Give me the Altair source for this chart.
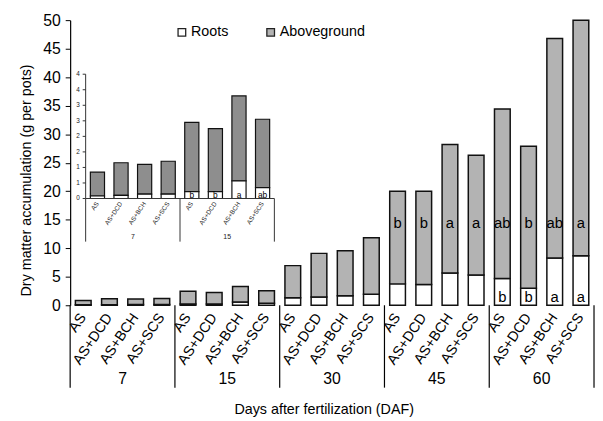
import altair as alt
import pandas as pd

days = ["7", "15", "30", "45", "60"]
treatments = ["AS", "AS+DCD", "AS+BCH", "AS+SCS"]
roots = [0.08, 0.10, 0.14, 0.14,
         0.22, 0.22, 0.57, 0.35,
         1.3, 1.45, 1.65, 1.95,
         3.75, 3.65, 5.65, 5.3,
         4.7, 3.0, 8.3, 8.7]
totals = [0.85, 1.15, 1.1, 1.2,
          2.45, 2.25, 3.3, 2.55,
          6.95, 9.1, 9.55, 11.85,
          20.0, 20.0, 28.2, 26.3,
          34.4, 27.9, 46.8, 50.0]
above_letters = ["", "", "", "", "", "", "", "", "", "", "", "",
                 "b", "b", "a", "a", "ab", "b", "ab", "a"]
root_letters = ["", "", "", "", "b", "b", "a", "ab", "", "", "", "",
                "", "", "", "", "b", "b", "a", "a"]
inset_days = ["7", "15"]
inset_ticks = [0, 0.5, 1, 1.5, 2, 2.5, 3, 3.5, 4]
x_title = "Days after fertilization (DAF)"
y_title = "Dry matter accumulation (g per pots)"

FONT = "Liberation Sans"

keys = [f"{d}|{t}" for d in days for t in treatments]
rows = []
for i, k in enumerate(keys):
    d, t = k.split("|")
    rows.append(dict(key=k, day=d, part="Roots", lo=0.0, hi=roots[i]))
    rows.append(dict(key=k, day=d, part="Aboveground", lo=roots[i], hi=totals[i]))
long_df = pd.DataFrame(rows)
letters_df = pd.DataFrame(dict(key=keys, day=[k.split("|")[0] for k in keys],
                               treat=[k.split("|")[1] for k in keys],
                               above=above_letters, root=root_letters))
bound_df = pd.DataFrame(dict(key=[f"{d}|{treatments[0]}" for d in days]))
right_df = pd.DataFrame(dict(key=[f"{days[-1]}|{treatments[-1]}"]))
glabel_df = pd.DataFrame(dict(key=[f"{d}|{treatments[2]}" for d in days], label=days))
xtitle_df = pd.DataFrame(dict(key=[f"{days[2]}|{treatments[2]}"], label=[x_title]))

inset_keys = [f"{d}|{t}" for d in inset_days for t in treatments]
inset_long = long_df[long_df["day"].isin(inset_days)]
inset_letters = letters_df[letters_df["day"].isin(inset_days)]
inset_bound = pd.DataFrame(dict(key=[f"{d}|{treatments[0]}" for d in inset_days]))
inset_right = pd.DataFrame(dict(key=[f"{inset_days[-1]}|{treatments[-1]}"]))
inset_glabel = pd.DataFrame(dict(key=[f"{d}|{treatments[2]}" for d in inset_days], label=inset_days))
inset_tick_df = pd.DataFrame(dict(v=inset_ticks))

W, H = 531, 289

# ---------- main chart ----------
mx_scale = alt.Scale(domain=keys, paddingInner=0, paddingOuter=0)
my_scale = alt.Scale(domain=[0, 50], nice=False)
mx_axis = alt.Axis(labels=False, ticks=False, domainColor="black", domainWidth=1.2,
                   title=None, grid=False)
my_axis = alt.Axis(values=list(range(0, 51, 5)), tickSize=5, labelFontSize=16,
                   labelFont=FONT, labelColor="black", labelPadding=5,
                   domainColor="black", tickColor="black", domainWidth=1.2,
                   title=y_title, titleFontSize=14.5,
                   titleFont=FONT, titleFontWeight="normal", titleColor="black",
                   titlePadding=9, titleY=162, grid=False)

main_bars = alt.Chart(long_df).mark_bar(
    width=alt.RelativeBandSize(0.6), stroke="#111111", strokeWidth=1.5
).encode(
    x=alt.X("key:N", scale=mx_scale, axis=mx_axis),
    y=alt.Y("lo:Q", scale=my_scale, axis=my_axis),
    y2="hi:Q",
    color=alt.Color("part:N",
                    scale=alt.Scale(domain=["Roots", "Aboveground"],
                                    range=["#ffffff", "#b3b3b3"]),
                    legend=alt.Legend(orient="none", legendX=106, legendY=5,
                                      direction="horizontal", title=None,
                                      symbolType="square", symbolSize=60,
                                      symbolStrokeColor="#222222", symbolStrokeWidth=1.3,
                                      labelFontSize=14.5, labelFont=FONT, labelColor="black",
                                      labelOffset=2, columnPadding=35, padding=0)),
)

main_xlabels = alt.Chart(letters_df).mark_text(
    fontSize=14.5, font=FONT, color="black", angle=304, align="right", baseline="middle"
).encode(x=alt.X("key:N", scale=mx_scale, axis=None), y=alt.value(H + 10), text="treat:N")

main_above_txt = alt.Chart(letters_df).mark_text(
    fontSize=15, font=FONT, color="black", baseline="middle"
).encode(x=alt.X("key:N", scale=mx_scale, axis=None), y=alt.value(205.5), text="above:N")

main_root_txt = alt.Chart(letters_df[letters_df["day"] == days[-1]]).mark_text(
    fontSize=15, font=FONT, color="black", baseline="middle"
).encode(x=alt.X("key:N", scale=mx_scale, axis=None), y=alt.value(280.5), text="root:N")

main_rules = alt.Chart(bound_df).mark_rule(color="black", strokeWidth=1.2).encode(
    x=alt.X("key:N", scale=mx_scale, axis=None, bandPosition=0),
    y=alt.value(H), y2=alt.value(372.5))
main_right = alt.Chart(right_df).mark_rule(color="black", strokeWidth=1.2).encode(
    x=alt.X("key:N", scale=mx_scale, axis=None, bandPosition=1),
    y=alt.value(H), y2=alt.value(372.5))
main_glabels = alt.Chart(glabel_df).mark_text(
    fontSize=16, font=FONT, color="black", baseline="middle"
).encode(x=alt.X("key:N", scale=mx_scale, axis=None, bandPosition=0),
         y=alt.value(364), text="label:N")
main_xtitle = alt.Chart(xtitle_df).mark_text(
    fontSize=14.5, font=FONT, color="black", baseline="middle", dx=-8
).encode(x=alt.X("key:N", scale=mx_scale, axis=None, bandPosition=0),
         y=alt.value(395), text="label:N")

main = alt.layer(main_bars, main_xlabels, main_above_txt, main_root_txt,
                 main_rules, main_right, main_glabels, main_xtitle)

# ---------- inset ----------
IX0, IX1 = 15.7, 207
ix_scale = alt.Scale(domain=inset_keys, range=[IX0, IX1], paddingInner=0, paddingOuter=0)
iy_scale = alt.Scale(domain=[0, 4], range=[180.8, 54.8], nice=False)
AXC = "#333333"

inset_above = alt.Chart(inset_long[inset_long["part"] == "Aboveground"]).mark_bar(
    width=alt.RelativeBandSize(0.6), fill="#8e8e8e", stroke="#111111", strokeWidth=1.2
).encode(x=alt.X("key:N", scale=ix_scale, axis=None),
         y=alt.Y("lo:Q", scale=iy_scale, axis=None), y2="hi:Q")
inset_roots = alt.Chart(inset_long[inset_long["part"] == "Roots"]).mark_bar(
    width=alt.RelativeBandSize(0.6), fill="#ffffff", stroke="#111111", strokeWidth=1.2
).encode(x=alt.X("key:N", scale=ix_scale, axis=None),
         y=alt.Y("lo:Q", scale=iy_scale, axis=None), y2="hi:Q")
inset_txt = alt.Chart(inset_letters).mark_text(
    fontSize=8.5, font=FONT, color="black", baseline="middle"
).encode(x=alt.X("key:N", scale=ix_scale, axis=None), y=alt.value(177.5), text="root:N")
inset_xlabels = alt.Chart(inset_letters).mark_text(
    fontSize=6.5, font=FONT, color="#222222", angle=304, align="right", baseline="middle"
).encode(x=alt.X("key:N", scale=ix_scale, axis=None), y=alt.value(185), text="treat:N")
inset_rules = alt.Chart(inset_bound).mark_rule(color=AXC, strokeWidth=1).encode(
    x=alt.X("key:N", scale=ix_scale, axis=None, bandPosition=0),
    y=alt.value(180.8), y2=alt.value(224.5))
inset_rright = alt.Chart(inset_right).mark_rule(color=AXC, strokeWidth=1).encode(
    x=alt.X("key:N", scale=ix_scale, axis=None, bandPosition=1),
    y=alt.value(180.8), y2=alt.value(224.5))
inset_gl = alt.Chart(inset_glabel).mark_text(
    fontSize=7, font=FONT, color="#222222", baseline="middle"
).encode(x=alt.X("key:N", scale=ix_scale, axis=None, bandPosition=0),
         y=alt.value(219.5), text="label:N")
inset_base = alt.Chart(inset_tick_df.head(1)).mark_rule(color=AXC, strokeWidth=1).encode(
    x=alt.value(IX0), x2=alt.value(IX1), y=alt.Y("v:Q", scale=iy_scale, axis=None))
inset_yline = alt.Chart(inset_tick_df.head(1)).mark_rule(color=AXC, strokeWidth=1).encode(
    x=alt.value(IX0), y=alt.Y("v:Q", scale=iy_scale, axis=None), y2=alt.datum(4))
inset_yticks = alt.Chart(inset_tick_df).mark_rule(color=AXC, strokeWidth=1).encode(
    x=alt.value(IX0 - 3), x2=alt.value(IX0), y=alt.Y("v:Q", scale=iy_scale, axis=None))
inset_ylabels = alt.Chart(inset_tick_df).mark_text(
    fontSize=6.5, font=FONT, color="#222222", align="right", baseline="middle"
).encode(x=alt.value(IX0 - 6), y=alt.Y("v:Q", scale=iy_scale, axis=None),
         text=alt.Text("v:Q", format="d"))

inset = alt.layer(inset_above, inset_roots, inset_txt, inset_xlabels, inset_rules,
                  inset_rright, inset_gl, inset_base, inset_yline, inset_yticks, inset_ylabels)

chart = alt.layer(main, inset).resolve_scale(x="independent", y="independent").properties(
    width=W, height=H,
    autosize=alt.AutoSizeParams(type="none"),
    padding={"left": 63, "top": 9.5, "right": 1, "bottom": 114},
    background="white",
).configure_view(stroke=None)

chart.save("out.html", embed_options={"renderer": "svg", "actions": False})
